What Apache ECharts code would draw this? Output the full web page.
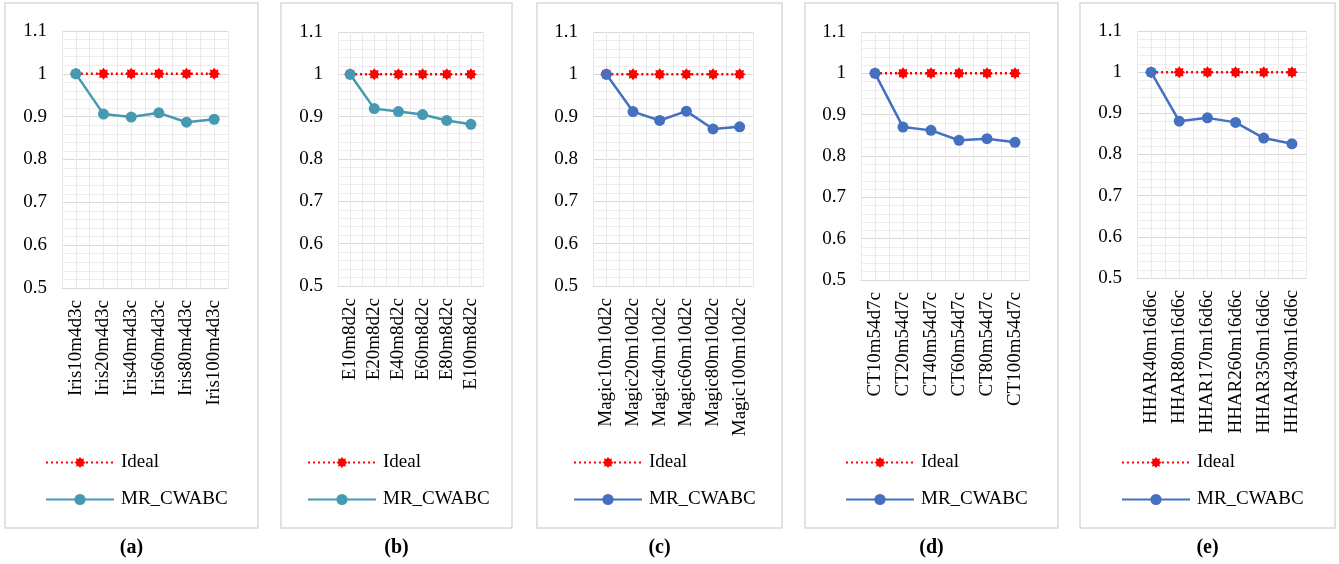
<!DOCTYPE html>
<html>
<head>
<meta charset="utf-8">
<script src="https://cdn.jsdelivr.net/npm/echarts@6/dist/echarts.min.js"></script>
<style>
  html, body { margin: 0; padding: 0; background: #fff; }
  #chart { width: 1339px; height: 564px; }
</style>
</head>
<body>
<div id="chart"></div>
<script>
// categories per panel
const catsA = ['Iris10m4d3c', 'Iris20m4d3c', 'Iris40m4d3c', 'Iris60m4d3c', 'Iris80m4d3c', 'Iris100m4d3c'];
const catsB = ['E10m8d2c', 'E20m8d2c', 'E40m8d2c', 'E60m8d2c', 'E80m8d2c', 'E100m8d2c'];
const catsC = ['Magic10m10d2c', 'Magic20m10d2c', 'Magic40m10d2c', 'Magic60m10d2c', 'Magic80m10d2c', 'Magic100m10d2c'];
const catsD = ['CT10m54d7c', 'CT20m54d7c', 'CT40m54d7c', 'CT60m54d7c', 'CT80m54d7c', 'CT100m54d7c'];
const catsE = ['HHAR40m16d6c', 'HHAR80m16d6c', 'HHAR170m16d6c', 'HHAR260m16d6c', 'HHAR350m16d6c', 'HHAR430m16d6c'];

// series values
const idealA = [1, 1, 1, 1, 1, 1];
const idealB = [1, 1, 1, 1, 1, 1];
const idealC = [1, 1, 1, 1, 1, 1];
const idealD = [1, 1, 1, 1, 1, 1];
const idealE = [1, 1, 1, 1, 1, 1];
const mrA = [1, 0.906, 0.899, 0.909, 0.887, 0.894];
const mrB = [1, 0.919, 0.912, 0.905, 0.891, 0.882];
const mrC = [1, 0.912, 0.891, 0.913, 0.871, 0.876];
const mrD = [1, 0.870, 0.862, 0.838, 0.842, 0.833];
const mrE = [1, 0.881, 0.889, 0.878, 0.840, 0.826];

const panelLabels = ['(a)', '(b)', '(c)', '(d)', '(e)'];

const FONT = '"Liberation Serif", "Times New Roman", serif';
const TEAL = '#4599B0';
const BLUE = '#4470BF';
const RED = '#FF0000';
const starPath = 'path://M0,-10 L2.8,-6.2 L7.07,-7.07 L6.2,-2.8 L10,0 L6.2,2.8 L7.07,7.07 L2.8,6.2 L0,10 L-2.8,6.2 L-7.07,7.07 L-6.2,2.8 L-10,0 L-6.2,-2.8 L-7.07,-7.07 L-2.8,-6.2 Z';

const panels = [
  { cats: catsA, ideal: idealA, mr: mrA, color: TEAL, box: [5, 258], grid: { left: 62, top: 31, width: 166, height: 257 }, legendLeft: 45 },
  { cats: catsB, ideal: idealB, mr: mrB, color: TEAL, box: [281, 512], grid: { left: 338, top: 32, width: 145, height: 254 }, legendLeft: 307 },
  { cats: catsC, ideal: idealC, mr: mrC, color: BLUE, box: [537, 782], grid: { left: 593, top: 32, width: 160, height: 254 }, legendLeft: 573 },
  { cats: catsD, ideal: idealD, mr: mrD, color: BLUE, box: [805, 1058], grid: { left: 861, top: 32, width: 168, height: 248 }, legendLeft: 845 },
  { cats: catsE, ideal: idealE, mr: mrE, color: BLUE, box: [1080, 1335], grid: { left: 1137, top: 31, width: 169, height: 247 }, legendLeft: 1121 }
];

const grid = [], xAxis = [], yAxis = [], series = [], legend = [], graphic = [];

panels.forEach((p, i) => {
  grid.push(p.grid);
  // category axis with labels
  xAxis.push({
    type: 'category',
    gridIndex: i,
    data: p.cats,
    boundaryGap: true,
    axisLine: { show: true, lineStyle: { color: '#D9D9D9', width: 1 } },
    axisTick: { show: false },
    splitLine: { show: false },
    axisLabel: { rotate: 90, interval: 0, margin: 12, color: '#000', fontFamily: FONT, fontSize: 19 }
  });
  // hidden value axis only for the vertical grid lines (half category spacing)
  xAxis.push({
    type: 'value',
    gridIndex: i,
    min: 0,
    max: 12,
    interval: 1,
    show: true,
    axisLine: { show: false },
    axisTick: { show: false },
    axisLabel: { show: false },
    splitLine: { show: true, lineStyle: { color: '#EAEAEA', width: 1 } }
  });
  yAxis.push({
    type: 'value',
    gridIndex: i,
    min: 0.5,
    max: 1.1,
    interval: 0.1,
    axisLine: { show: false },
    axisTick: { show: false },
    axisLabel: { color: '#000', fontFamily: FONT, fontSize: 19, margin: 15 },
    splitLine: { show: true, lineStyle: { color: '#D9D9D9', width: 1.2 } },
    minorTick: { show: false, splitNumber: 5 },
    minorSplitLine: { show: true, lineStyle: { color: '#EDEDED', width: 1 } }
  });

  const tag = '|' + i;
  series.push({
    name: 'Ideal' + tag,
    type: 'line',
    xAxisIndex: i * 2,
    yAxisIndex: i,
    data: p.ideal,
    symbol: starPath,
    symbolSize: 12,
    itemStyle: { color: RED },
    lineStyle: { color: RED, width: 2.5, type: [2, 3] },
    z: 2,
    animation: false
  });
  series.push({
    name: 'MR_CWABC' + tag,
    type: 'line',
    xAxisIndex: i * 2,
    yAxisIndex: i,
    data: p.mr,
    symbol: 'circle',
    symbolSize: 11,
    itemStyle: { color: p.color },
    lineStyle: { color: p.color, width: 2.5 },
    z: 3,
    animation: false
  });

  legend.push({
    orient: 'vertical',
    left: p.legendLeft,
    top: 453,
    padding: 0,
    itemWidth: 68,
    itemHeight: 14,
    itemGap: 18,
    selectedMode: false,
    data: ['Ideal' + tag, 'MR_CWABC' + tag],
    formatter: name => name.split('|')[0],
    textStyle: { color: '#000', fontFamily: FONT, fontSize: 19, padding: [0, 0, 0, 2] }
  });

  graphic.push({
    type: 'rect',
    shape: { x: p.box[0], y: 3, width: p.box[1] - p.box[0], height: 525 },
    style: { fill: 'none', stroke: '#D9D9D9', lineWidth: 1.5 },
    silent: true
  });
  graphic.push({
    type: 'text',
    x: (p.box[0] + p.box[1]) / 2,
    y: 548,
    style: {
      text: panelLabels[i],
      fill: '#000',
      font: 'bold 20px ' + FONT,
      textAlign: 'center',
      textVerticalAlign: 'middle'
    },
    silent: true
  });
});

const myChart = echarts.init(document.getElementById('chart'), null, { renderer: 'canvas' });
myChart.setOption({
  backgroundColor: '#fff',
  animation: false,
  grid: grid,
  xAxis: xAxis,
  yAxis: yAxis,
  series: series,
  legend: legend,
  graphic: graphic
});
</script>
</body>
</html>
